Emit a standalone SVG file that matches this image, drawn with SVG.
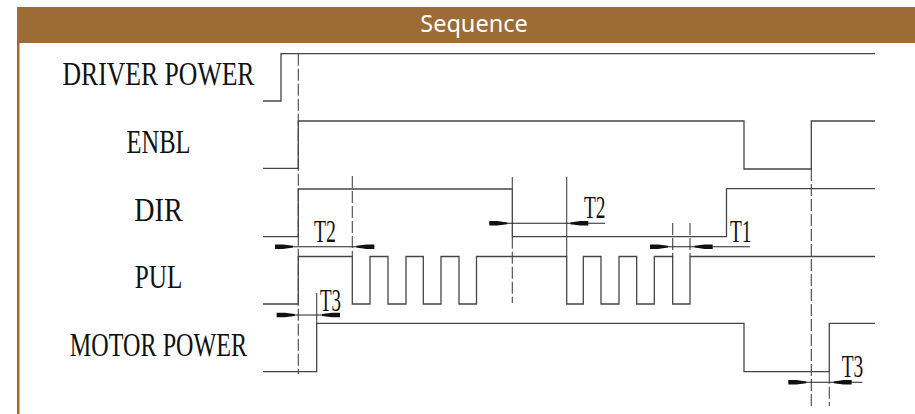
<svg xmlns="http://www.w3.org/2000/svg" width="915" height="414" viewBox="0 0 915 414">
  <defs>
    <style>
      .sig { fill: none; stroke: #454545; stroke-width: 1.3; stroke-linejoin: miter; }
      .ext { fill: none; stroke: #454545; stroke-width: 1.1; }
      .dash { fill: none; stroke: #454545; stroke-width: 1.1; stroke-dasharray: 12 3; }
      .dim { fill: none; stroke: #222; stroke-width: 1.1; }
      .lbl { font-family: "Liberation Serif", "Times New Roman", serif; font-size: 34px; fill: #111; }
      .tl { font-family: "Liberation Serif", "Times New Roman", serif; font-size: 32px; fill: #111; }
      .ah { fill: #111; }
    </style>
    <polygon id="arr" points="0,-2.3 8,-2.3 18,-0.9 18,0.9 8,2.3 0,2.3"/>
  </defs>
  <rect x="0" y="0" width="915" height="414" fill="#ffffff"/>
  <g id="header">
    <rect x="17" y="7" width="898" height="36" fill="#9D6B35"/>
    <rect x="17" y="43" width="2.5" height="371" fill="#9D6B35"/>
    <text x="474" y="32" text-anchor="middle" font-family="Noto Sans, Open Sans, sans-serif" font-size="23.5" fill="#ffffff">Sequence</text>
  </g>
  <g id="driver-power">
    <text class="lbl" x="158.5" y="85" text-anchor="middle" textLength="192" lengthAdjust="spacingAndGlyphs">DRIVER POWER</text>
    <polyline class="sig" points="263,101 281,101 281,53.7 875,53.7"/>
  </g>
  <g id="enbl">
    <text class="lbl" x="158.5" y="153" text-anchor="middle" textLength="64" lengthAdjust="spacingAndGlyphs">ENBL</text>
    <polyline class="sig" points="263,168.3 298.3,168.3 298.3,121 744,121 744,169 811.3,169 811.3,121 875,121"/>
  </g>
  <g id="dir">
    <text class="lbl" x="158.5" y="220.5" text-anchor="middle" textLength="48.4" lengthAdjust="spacingAndGlyphs">DIR</text>
    <polyline class="sig" points="263,236.7 298.3,236.7 298.3,189 512.3,189 512.3,236.7 726.5,236.7 726.5,188.7 875,188.7"/>
  </g>
  <g id="pul">
    <text class="lbl" x="158.5" y="288" text-anchor="middle" textLength="47.7" lengthAdjust="spacingAndGlyphs">PUL</text>
    <polyline class="sig" points="263,304 298.3,304 298.3,256.5 352.3,256.5 352.3,304 370,304 370,256.5 388,256.5 388,304 406,304 406,256.5 423.3,256.5 423.3,304 441,304 441,256.5 459,256.5 459,304 476.5,304 476.5,256.5 566.7,256.5 566.7,304 583.3,304 583.3,256.5 601,256.5 601,304 619,304 619,256.5 636.7,256.5 636.7,304 654.3,304 654.3,256.5 672.7,256.5 672.7,304 690,304 690,256.5 875,256.5"/>
  </g>
  <g id="motor-power">
    <text class="lbl" x="158.5" y="356" text-anchor="middle" textLength="177.3" lengthAdjust="spacingAndGlyphs">MOTOR POWER</text>
    <polyline class="sig" points="263,371.7 316.7,371.7 316.7,323.3 744,323.3 744,371.7 829.3,371.7 829.3,323.3 875,323.3"/>
  </g>
  <g id="connectors">
    <line class="dash" x1="298.3" y1="53.7" x2="298.3" y2="374"/>
    <line class="dash" x1="352.3" y1="176" x2="352.3" y2="256.5"/>
    <line class="ext" x1="316.7" y1="293" x2="316.7" y2="323.3"/>
    <line class="ext" x1="512.3" y1="177" x2="512.3" y2="189"/>
    <line class="dash" x1="512.3" y1="236.7" x2="512.3" y2="303"/>
    <line class="ext" x1="566.7" y1="177" x2="566.7" y2="256.5"/>
    <line class="dash" x1="672.7" y1="223" x2="672.7" y2="256.5"/>
    <line class="dash" x1="690" y1="223" x2="690" y2="256.5"/>
    <line class="dash" x1="811.3" y1="169" x2="811.3" y2="406"/>
    <line class="dash" x1="829.3" y1="371.7" x2="829.3" y2="406"/>

    <line class="dim" x1="275" y1="246.7" x2="374.3" y2="246.7"/>
    <use href="#arr" class="ah" transform="translate(275,246.7)"/>
    <use href="#arr" class="ah" transform="translate(374.3,246.7) scale(-1,1)"/>
    <text class="tl" x="314" y="241.7" textLength="22" lengthAdjust="spacingAndGlyphs">T2</text>

    <line class="dim" x1="276.7" y1="315" x2="340" y2="315"/>
    <use href="#arr" class="ah" transform="translate(276.7,315)"/>
    <use href="#arr" class="ah" transform="translate(340,315) scale(-1,1)"/>
    <text class="tl" x="320" y="310.7" textLength="21" lengthAdjust="spacingAndGlyphs">T3</text>

    <line class="dim" x1="489.3" y1="223.3" x2="605" y2="223.3"/>
    <use href="#arr" class="ah" transform="translate(489.3,223.3)"/>
    <use href="#arr" class="ah" transform="translate(588.3,223.3) scale(-1,1)"/>
    <text class="tl" x="584" y="218.3" textLength="21.5" lengthAdjust="spacingAndGlyphs">T2</text>

    <line class="dim" x1="650" y1="246.7" x2="750" y2="246.7"/>
    <use href="#arr" class="ah" transform="translate(650,246.7)"/>
    <use href="#arr" class="ah" transform="translate(712.7,246.7) scale(-1,1)"/>
    <text class="tl" x="730" y="241.7" textLength="21.5" lengthAdjust="spacingAndGlyphs">T1</text>

    <line class="dim" x1="788.3" y1="382.3" x2="862.3" y2="382.3"/>
    <use href="#arr" class="ah" transform="translate(788.3,382.3)"/>
    <use href="#arr" class="ah" transform="translate(851.7,382.3) scale(-1,1)"/>
    <text class="tl" x="841.7" y="376.7" textLength="21.5" lengthAdjust="spacingAndGlyphs">T3</text>
  </g>
</svg>
